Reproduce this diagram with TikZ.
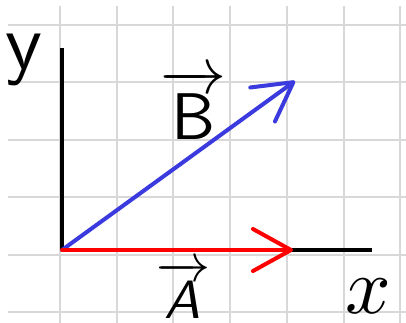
\documentclass[tikz,border=0pt]{standalone}
\usepackage{graphicx}
\usepackage{amsmath}
\usetikzlibrary{arrows.meta}
\definecolor{gridgray}{RGB}{216,216,216}
\definecolor{vecblue}{RGB}{58,58,222}
\definecolor{vecred}{RGB}{255,0,0}
\begin{document}
\begin{tikzpicture}[x=1pt,y=-1pt,
  gridline/.style={draw=gridgray,line width=2pt},
  axisline/.style={draw=black,line width=3.2pt},
  vecline/.style={line width=4pt,line cap=round,
     -{Straight Barb[length=38pt,width=42pt,line cap=round,line join=round]}},
  lbl/.style={inner sep=0pt,text=black}]
\useasboundingbox (0,0) rectangle (406,323);
\fill[white] (0,0) rectangle (406,323);
\foreach \gx in {60,116.7,173.4,230.1,286.8,343.5,400.2}
  \draw[gridline] (\gx,6) -- (\gx,323);
\foreach \gy in {25,82.4,139.8,197.2,254.6,312}
  \draw[gridline] (8,\gy) -- (406,\gy);
\coordinate (O) at (62,250);
\coordinate (ytop) at (62,48);
\coordinate (xend) at (372,250);
\coordinate (Atip) at (293,250);
\coordinate (Btip) at (295,81);
\draw[axisline] (O) -- (ytop);
\draw[axisline] (O) -- (xend);
\draw[vecline,draw=vecblue] (O) -- (Btip);
\draw[vecline,draw=vecred] (O) -- (Atip);
\node[lbl] (ylab) at (24,60) {\scalebox{8}{\sffamily y}};
\node[lbl] (xlab) at (368,296) {\scalebox{8}{$x$}};
\node[lbl] (Blab) at (193,104) {\scalebox{6.6}{$\overrightarrow{\mathsf{B}}$}};
\node[lbl] (Alab) at (183,290) {\scalebox{5.4}{$\overrightarrow{\text{\sffamily\itshape A}}$}};
\end{tikzpicture}
\end{document}
